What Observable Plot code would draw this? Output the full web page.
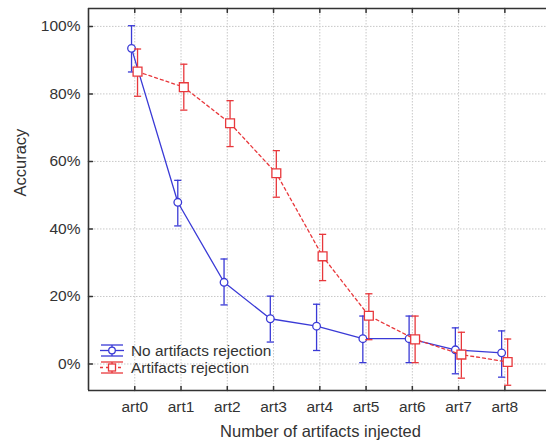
<!DOCTYPE html>
<html>
<head>
<meta charset="utf-8">
<script src="https://cdn.jsdelivr.net/npm/d3@7"></script>
<script src="https://cdn.jsdelivr.net/npm/@observablehq/plot@0.6"></script>
<style>
  html, body { margin: 0; padding: 0; background: white; }
  #wrap { position: relative; width: 546px; height: 445px; font-family: "Liberation Sans", Arial, sans-serif; }
  #legend { position: absolute; left: 99px; top: 342px; font-size: 15.4px; color: #333; line-height: 17px; }
  #legend .row { display: flex; align-items: center; height: 17px; }
  #legend svg { margin-right: 6px; }
</style>
</head>
<body>
<div id="wrap"></div>
<script>
const categories = ["art0", "art1", "art2", "art3", "art4", "art5", "art6", "art7", "art8"];
const seriesNames = ["No artifacts rejection", "Artifacts rejection"];
const noRejMean = [93.5, 47.9, 24.2, 13.4, 11.2, 7.5, 7.5, 4.2, 3.3];
const noRejLo   = [86.5, 40.9, 17.5, 6.5, 4.0, 0.4, 0.4, -2.9, -3.9];
const noRejHi   = [100.2, 54.4, 31.1, 20.1, 17.7, 14.2, 14.2, 10.7, 9.8];
const rejMean   = [86.6, 82.0, 71.3, 56.5, 31.9, 14.3, 7.3, 2.8, 0.6];
const rejLo     = [79.3, 75.2, 64.4, 49.4, 24.7, 7.2, 0.4, -4.2, -6.3];
const rejHi     = [93.3, 88.8, 78.0, 63.2, 38.4, 20.8, 14.2, 9.4, 7.4];
const yTicks = [0, 20, 40, 60, 80, 100];

const BLUE = "#3a3ad6";
const RED = "#e8383c";
const yDom = [-7.85, 105.3];
const xDom = [-1, 8.9];

const blue = categories.map((c, i) => ({x: i - 0.07, mean: noRejMean[i], lo: noRejLo[i], hi: noRejHi[i]}));
const red  = categories.map((c, i) => ({x: i + 0.06, mean: rejMean[i], lo: rejLo[i], hi: rejHi[i]}));

const cap = { draw(context, size) { const r = Math.sqrt(size / Math.PI); context.moveTo(-r, 0); context.lineTo(r, 0); } };
const tickShape = { draw(context, l) { context.moveTo(0, 0); context.lineTo(0, -l); } };

function series(data, color, symbol, r, dash) {
  return [
    Plot.line(data, {x: "x", y: "mean", stroke: color, strokeWidth: 1.3, strokeDasharray: dash}),
    Plot.ruleX(data, {x: "x", y1: "lo", y2: "hi", stroke: color, strokeWidth: 1.3}),
    Plot.dot(data, {x: "x", y: "lo", symbol: cap, r: 3.6, stroke: color, strokeWidth: 1.3}),
    Plot.dot(data, {x: "x", y: "hi", symbol: cap, r: 3.6, stroke: color, strokeWidth: 1.3}),
    Plot.dot(data, {x: "x", y: "mean", symbol, r, stroke: color, fill: "white", strokeWidth: 1.3})
  ];
}

const chart = Plot.plot({
  width: 546,
  height: 445,
  marginLeft: 88,
  marginRight: 0,
  marginTop: 8,
  marginBottom: 55,
  style: {fontFamily: "'Liberation Sans', Arial, sans-serif", fontSize: "15px", color: "#333", background: "white"},
  x: {domain: xDom},
  y: {domain: yDom},
  marks: [
    Plot.ruleY(yTicks, {stroke: "#c8c8c8", strokeDasharray: "1.5,1.5", strokeWidth: 1}),
    Plot.ruleX(d3.range(categories.length), {stroke: "#c8c8c8", strokeDasharray: "1.5,1.5", strokeWidth: 1}),
    Plot.axisY({ticks: yTicks, tickFormat: d => d + "%", tickSize: 0, tickPadding: 8, fontSize: 15.5, label: null}),
    Plot.axisX({ticks: d3.range(categories.length), tickFormat: i => categories[i], tickSize: 0, tickPadding: 10, fontSize: 15.5, label: null}),
    Plot.vector(d3.range(categories.length), {x: d => d, y: yDom[0], rotate: 0, length: 4, anchor: "start", shape: tickShape, stroke: "#333"}),
    Plot.vector(d3.range(categories.length), {x: d => d, y: yDom[1], rotate: 180, length: 4, anchor: "start", shape: tickShape, stroke: "#333"}),
    Plot.vector(yTicks, {x: xDom[0], y: d => d, rotate: 90, length: 4, anchor: "start", shape: tickShape, stroke: "#333"}),
    Plot.ruleX([xDom[0]], {stroke: "#333", strokeWidth: 1.6}),
    Plot.ruleY(yDom, {stroke: "#333", strokeWidth: 1.6}),
    ...series(blue, BLUE, "circle", 3.8, null),
    ...series(red, RED, "square", 5, "3,3"),
    Plot.text(["Accuracy"], {frameAnchor: "left", dx: -68, dy: -3, rotate: -90, fontSize: 16.5, fill: "#333"}),
    Plot.text(["Number of artifacts injected"], {frameAnchor: "bottom", dy: 46, dx: 3, fontSize: 16.5, fill: "#333"})
  ]
});

const wrap = document.getElementById("wrap");
wrap.appendChild(chart);

const legend = document.createElement("div");
legend.id = "legend";
const icon = (color, marker, dash) => `
<svg width="26" height="17" viewBox="0 0 26 17">
  <line x1="2" x2="24" y1="3" y2="3" stroke="${color}" stroke-width="1.3"/>
  <line x1="2" x2="24" y1="14" y2="14" stroke="${color}" stroke-width="1.3"/>
  <line x1="13" x2="13" y1="3" y2="14" stroke="${color}" stroke-width="1.3"/>
  <line x1="1" x2="25" y1="8.5" y2="8.5" stroke="${color}" stroke-width="1.3" ${dash ? `stroke-dasharray="${dash}"` : ""}/>
  ${marker}
</svg>`;
legend.innerHTML = `
<div class="row">${icon(BLUE, `<circle cx="13" cy="8.5" r="3.3" fill="white" stroke="${BLUE}" stroke-width="1.3"/>`, null)}<span>${seriesNames[0]}</span></div>
<div class="row">${icon(RED, `<rect x="9.5" y="5" width="7" height="7" fill="white" stroke="${RED}" stroke-width="1.3"/>`, "3,3")}<span>${seriesNames[1]}</span></div>`;
wrap.appendChild(legend);
</script>
</body>
</html>
